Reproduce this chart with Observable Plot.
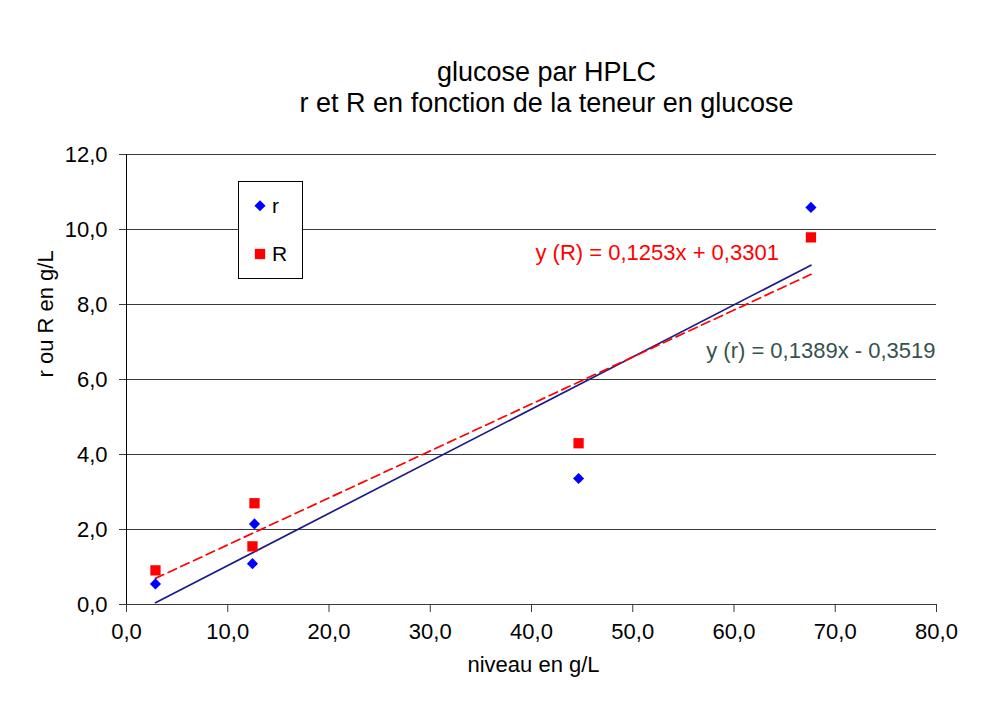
<!DOCTYPE html>
<html><head><meta charset="utf-8">
<script src="https://cdn.jsdelivr.net/npm/d3@7"></script>
<script src="https://cdn.jsdelivr.net/npm/@observablehq/plot@0.6"></script>
<style>
body{margin:0;background:#fff;font-family:"Liberation Sans",Arial,sans-serif;}
#wrap{position:relative;width:987px;height:705px;}
#legend{position:absolute;left:238px;top:181px;}
</style></head><body><div id="wrap"></div>
<script>
const niveau = [2.86, 12.44, 12.64, 44.65, 67.6];
const rValues = [0.55, 1.09, 2.15, 3.36, 10.59];
const RValues = [0.91, 1.55, 2.70, 4.30, 9.79];
const xTicks = [0, 10, 20, 30, 40, 50, 60, 70, 80];
const yTicks = [0, 2, 4, 6, 8, 10, 12];
const seriesNames = ["r", "R"];
const equations = ["y (R) = 0,1253x + 0,3301", "y (r) = 0,1389x - 0,3519"];
const titleLines = ["glucose par HPLC", "r et R en fonction de la teneur en glucose"];
const xLabel = "niveau en g/L";
const yLabel = "r ou R en g/L";

const rRows = niveau.map((x, i) => ({x, y: rValues[i]}));
const RRows = niveau.map((x, i) => ({x, y: RValues[i]}));
const fmt = d => d.toFixed(1).replace(".", ",");
const BLUE = "#0000ff", RED = "#ff0000", NAVY = "#1c1c86", EQ = "#34524f";
const DIAMOND_R = 5, SQUARE_R = 5.8;

const chart = Plot.plot({
  width: 987, height: 705,
  marginLeft: 126, marginRight: 51, marginTop: 154, marginBottom: 101,
  style: {fontFamily: "'Liberation Sans', Arial, sans-serif", fontSize: "22px", background: "white", color: "black"},
  x: {domain: [0, 80]},
  y: {domain: [0, 12]},
  marks: [
    Plot.ruleY(yTicks, {stroke: "#3a3a3a", strokeWidth: 1}),
    Plot.ruleX([0], {stroke: "#000", strokeWidth: 1}),
    Plot.axisY(yTicks, {tickSize: 7, tickPadding: 12, tickFormat: fmt, label: null, fontSize: 22, stroke: "#3a3a3a", strokeOpacity: 1}),
    Plot.axisX(xTicks, {tickSize: 8, tickPadding: 11, tickFormat: fmt, label: null, fontSize: 22, stroke: "#3a3a3a", strokeOpacity: 1}),
    Plot.text([xLabel], {frameAnchor: "bottom", dx: 2, dy: 60, lineAnchor: "middle", fontSize: 22}),
    Plot.text([yLabel], {frameAnchor: "left", rotate: -90, dx: -81, dy: -2, lineAnchor: "middle", fontSize: 22}),
    Plot.text([titleLines[0]], {frameAnchor: "top", dx: 15, dy: -82, lineAnchor: "middle", fontSize: 27}),
    Plot.text([titleLines[1]], {frameAnchor: "top", dx: 15, dy: -51, lineAnchor: "middle", fontSize: 27}),
    Plot.linearRegressionY(rRows, {x: "x", y: "y", stroke: NAVY, strokeWidth: 1.7, ci: 0}),
    Plot.linearRegressionY(RRows, {x: "x", y: "y", stroke: RED, strokeWidth: 1.7, strokeDasharray: "9,5", ci: 0}),
    Plot.dot(rRows, {x: "x", y: "y", symbol: "diamond2", fill: BLUE, stroke: "none", r: DIAMOND_R}),
    Plot.dot(RRows, {x: "x", y: "y", symbol: "square", fill: RED, stroke: "none", r: SQUARE_R}),
    Plot.text([equations[0]], {frameAnchor: "top-left", dx: 409, dy: 98, textAnchor: "start", lineAnchor: "middle", fill: RED, fontSize: 22}),
    Plot.text([equations[1]], {frameAnchor: "top-right", dx: -1, dy: 196, textAnchor: "end", lineAnchor: "middle", fill: EQ, fontSize: 22})
  ]
});
const wrap = document.getElementById("wrap");
wrap.appendChild(chart);

// legend box
const lg = d3.select(wrap).append("svg").attr("id", "legend").attr("width", 66).attr("height", 99)
  .style("font-family", "'Liberation Sans', Arial, sans-serif");
lg.append("rect").attr("x", 0.5).attr("y", 0.5).attr("width", 64).attr("height", 97).attr("fill", "white").attr("stroke", "#000");
lg.append("path").attr("transform", "translate(22,24.7)").attr("d", d3.symbol(d3.symbolDiamond2, Math.PI * DIAMOND_R * DIAMOND_R)()).attr("fill", BLUE);
lg.append("path").attr("transform", "translate(22,73)").attr("d", d3.symbol(d3.symbolSquare, Math.PI * SQUARE_R * SQUARE_R)()).attr("fill", RED);
lg.selectAll("text.l").data(seriesNames).join("text")
  .attr("x", 34).attr("y", (d, i) => i === 0 ? 24.7 : 73).attr("dy", "0.35em")
  .attr("font-size", 21).text(d => d);
</script></body></html>
